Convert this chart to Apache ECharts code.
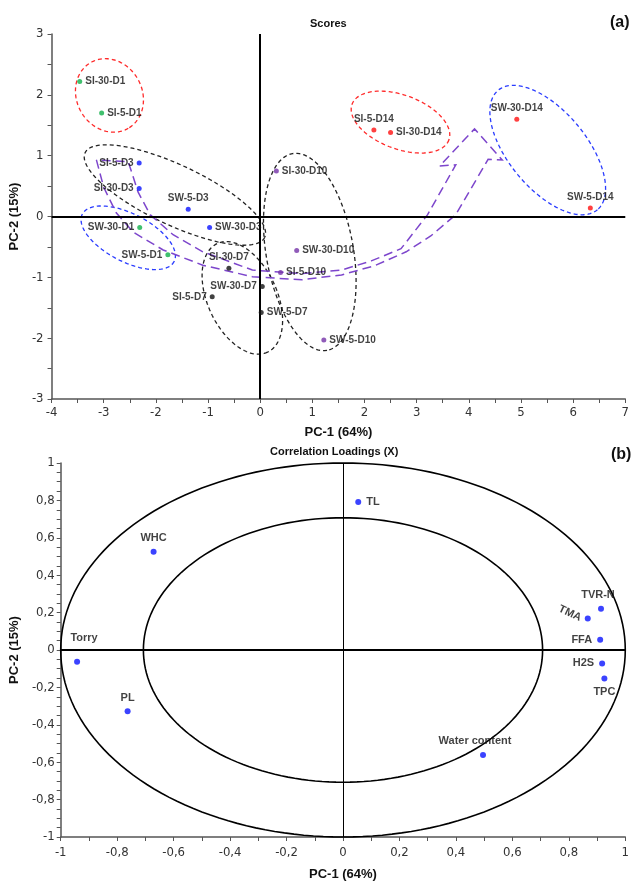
<!DOCTYPE html>
<html><head><meta charset="utf-8">
<script src="https://cdn.jsdelivr.net/npm/echarts@6/dist/echarts.min.js"></script>
<style>html,body{margin:0;padding:0;background:#fff}#c{width:632px;height:882px}</style>
</head><body><div id="c"></div>
<script>
// ---------- (a) Scores ----------
const scoreNames = ['SI-30-D1','SI-5-D1','SW-30-D1','SW-5-D1','SI-5-D3','SI-30-D3','SW-5-D3','SW-30-D3','SI-30-D7','SW-30-D7','SI-5-D7','SW-5-D7','SI-30-D10','SW-30-D10','SI-5-D10','SW-5-D10','SI-5-D14','SI-30-D14','SW-30-D14','SW-5-D14'];
const scoreX = [-3.46,-3.04,-2.31,-1.77,-2.32,-2.32,-1.38,-0.97,-0.60,0.04,-0.92,0.02,0.31,0.70,0.39,1.22,2.18,2.50,4.92,6.33];
const scoreY = [2.22,1.70,-0.18,-0.63,0.88,0.46,0.12,-0.18,-0.85,-1.15,-1.32,-1.58,0.75,-0.56,-0.92,-2.03,1.42,1.38,1.60,0.14];
const scoreGroup = ['D1','D1','D1','D1','D3','D3','D3','D3','D7','D7','D7','D7','D10','D10','D10','D10','D14','D14','D14','D14'];
const groups = ['D1','D3','D7','D10','D14'];
// group ellipses: [centerX, centerY, axisA_x, axisA_y, axisB_x, axisB_y] in PC units
const groupEllipses = [
  [-2.89, 1.99, 0.361,-0.540,-0.543,-0.271],
  [-2.53,-0.35, 0.881,-0.388,-0.207,-0.351],
  [-1.635,0.353,1.722,-0.695,-0.241,-0.446],
  [-0.342,-1.338,0.482,-0.893,-0.603,-0.243],
  [0.951,-0.583,0.331,-1.617,-0.824,-0.126],
  [2.69, 1.552,0.929,-0.292,-0.175,-0.417],
  [5.513,1.092,0.953,-0.981,-0.568,-0.412]
];
// trend arrow outline in PC units
const arrowX = [-3.14,-3.00,-2.76,-2.43,-1.86,-1.10,-0.15,0.80,1.56,2.19,2.80,3.27,3.75,4.37,4.64,4.11,3.44,3.75,3.21,2.70,2.13,1.56,0.80,-0.15,-1.10,-1.67,-2.11,-2.34,-2.53,-3.14];
const arrowY = [0.93,0.48,0.06,-0.26,-0.55,-0.80,-0.99,-1.04,-0.96,-0.81,-0.58,-0.32,0.03,0.94,0.93,1.44,0.83,0.85,0.03,-0.53,-0.73,-0.88,-0.94,-0.88,-0.58,-0.30,0.03,0.40,0.90,0.93];

// ---------- (b) Correlation loadings ----------
const loadNames = ['TL','WHC','Torry','PL','TVR-N','TMA','FFA','H2S','TPC','Water content'];
const loadX = [0.054,-0.671,-0.942,-0.763,0.914,0.867,0.911,0.918,0.926,0.496];
const loadY = [0.791,0.526,-0.063,-0.328,0.221,0.169,0.055,-0.072,-0.152,-0.561];
const circleRadii = [1, 0.7071];

// ---------- styles ----------
const groupColor = {D1:'#10b04a', D3:'#0a14ff', D7:'#111111', D10:'#7432a8', D14:'#ff1010'};
const ellipseStyle = ['#ff2a2a','#2a3cff','#222','#222','#222','#ff2a2a','#2a3cff'];
const scoreLabelPos = {'SI-5-D3':'left','SI-30-D3':'left','SW-5-D3':'top','SW-30-D1':'left','SW-5-D1':'left',
  'SI-30-D7':'top','SW-30-D7':'left','SI-5-D7':'left','SI-5-D14':'top','SW-30-D14':'top','SW-5-D14':'top'};
const loadLabel = {
  'TL':{position:'right'}, 'WHC':{position:'top'}, 'Torry':{position:'top', offset:[7,-10]},
  'PL':{position:'top'}, 'TVR-N':{position:'top', offset:[-3,0]}, 'TMA':{position:'left', rotate:-25, distance:4},
  'FFA':{position:'left'}, 'H2S':{position:'left'}, 'TPC':{position:'bottom'}, 'Water content':{position:'top', offset:[-8,0]}
};
const NARROW = "'Liberation Sans Narrow','Arial Narrow','DejaVu Sans Condensed',sans-serif";
const SANS = "'Liberation Sans',Arial,sans-serif";
const comma = v => String(+(+v).toFixed(1)).replace('.', ',');

function axisCommon(){
  return {
    axisLine:{onZero:false, lineStyle:{color:'#555', width:1.5}},
    axisTick:{show:true, length:4, lineStyle:{color:'#555'}},
    minorTick:{show:true, length:4, lineStyle:{color:'#555'}},
    splitLine:{show:false},
    axisLabel:{fontFamily:NARROW, fontSize:13, color:'#333'},
    nameLocation:'middle',
    nameTextStyle:{fontFamily:SANS, fontWeight:'bold', fontSize:13, color:'#111'}
  };
}

const scoreSeries = groups.map(g => ({
  type:'scatter', xAxisIndex:0, yAxisIndex:0, symbolSize:5, z:5,
  itemStyle:{color:groupColor[g]},
  label:{show:true, fontFamily:SANS, fontWeight:'bold', fontSize:10, color:'#111', distance:3,
    formatter:p=>p.name},
  data: scoreNames.map((n,i)=>({n,i})).filter(o=>scoreGroup[o.i]===g).map(o=>({
    name:o.n, value:[scoreX[o.i], scoreY[o.i]],
    label:{position: scoreLabelPos[o.n] || 'right'}
  }))
}));

const option = {
  animation:false,
  backgroundColor:'#fff',
  title:[
    {text:'Scores', left:305, top:13, textStyle:{fontFamily:SANS, fontWeight:'bold', fontSize:11, color:'#111'}},
    {text:'(a)', left:605, top:10, textStyle:{fontFamily:SANS, fontWeight:'bold', fontSize:16, color:'#111'}},
    {text:'Correlation Loadings (X)', left:265, top:441, textStyle:{fontFamily:SANS, fontWeight:'bold', fontSize:11, color:'#111'}},
    {text:'(b)', left:606, top:442, textStyle:{fontFamily:SANS, fontWeight:'bold', fontSize:16, color:'#111'}}
  ],
  grid:[
    {left:48, right:5, top:34, height:365},
    {left:59, right:5, top:463, height:374}
  ],
  xAxis:[
    Object.assign(axisCommon(), {gridIndex:0, type:'value', min:-4, max:7, interval:1, name:'PC-1 (64%)', nameGap:27,
      minorTick:{show:true, splitNumber:2, length:4, lineStyle:{color:'#555'}}}),
    Object.assign(axisCommon(), {gridIndex:1, type:'value', min:-1, max:1, interval:0.2, name:'PC-1 (64%)', nameGap:31,
      minorTick:{show:true, splitNumber:2, length:4, lineStyle:{color:'#555'}}})
  ],
  yAxis:[
    Object.assign(axisCommon(), {gridIndex:0, type:'value', min:-3, max:3, interval:1, name:'PC-2 (15%)', nameGap:21,
      minorTick:{show:true, splitNumber:2, length:4, lineStyle:{color:'#555'}}}),
    Object.assign(axisCommon(), {gridIndex:1, type:'value', min:-1, max:1, interval:0.2, name:'PC-2 (15%)', nameGap:27,
      minorTick:{show:true, splitNumber:4, length:4, lineStyle:{color:'#555'}}})
  ],
  series:[
    // zero lines (a)
    {type:'scatter', xAxisIndex:0, yAxisIndex:0, data:[], z:1,
      markLine:{silent:true, symbol:'none', label:{show:false}, lineStyle:{color:'#000', width:2, type:'solid'},
        data:[{xAxis:0},{yAxis:0}]}},
    // group ellipses
    {type:'custom', xAxisIndex:0, yAxisIndex:0, z:2, silent:true,
      data: groupEllipses.map(e=>[e[0], e[1]]),
      renderItem:(params, api)=>{
        const e = groupEllipses[params.dataIndex];
        const pts = [];
        for(let k=0;k<=120;k++){
          const t = k/120*2*Math.PI, c=Math.cos(t), s=Math.sin(t);
          pts.push(api.coord([e[0]+e[2]*c+e[4]*s, e[1]+e[3]*c+e[5]*s]));
        }
        return {type:'polyline', shape:{points:pts}, style:{stroke:ellipseStyle[params.dataIndex], lineWidth:1.3, lineDash:[4,3], fill:null}};
      }},
    // trend arrow
    {type:'custom', xAxisIndex:0, yAxisIndex:0, z:3, silent:true,
      data:[[arrowX[0], arrowY[0]]],
      renderItem:(params, api)=>{
        const pts = arrowX.map((x,i)=>api.coord([x, arrowY[i]]));
        return {type:'polyline', shape:{points:pts}, style:{stroke:'#7d46cc', lineWidth:1.5, lineDash:[9,5], fill:null}};
      }},
    ...scoreSeries,
    // zero lines (b)
    {type:'scatter', xAxisIndex:1, yAxisIndex:1, data:[], z:1,
      markLine:{silent:true, symbol:'none', label:{show:false},
        data:[{xAxis:0, lineStyle:{color:'#000', width:1, type:'solid'}},{yAxis:0, lineStyle:{color:'#000', width:2, type:'solid'}}]}},
    // correlation circles
    {type:'custom', xAxisIndex:1, yAxisIndex:1, z:2, silent:true,
      data: circleRadii.map(r=>[0, r]),
      renderItem:(params, api)=>{
        const r = circleRadii[params.dataIndex];
        const pts = [];
        for(let k=0;k<=180;k++){ const t=k/180*2*Math.PI; pts.push(api.coord([r*Math.cos(t), r*Math.sin(t)])); }
        return {type:'polyline', shape:{points:pts}, style:{stroke:'#000', lineWidth:1.6, fill:null}};
      }},
    {type:'scatter', xAxisIndex:1, yAxisIndex:1, symbolSize:6, z:5,
      itemStyle:{color:'#0a14ff'},
      label:{show:true, fontFamily:SANS, fontWeight:'bold', fontSize:11, color:'#111', distance:5, formatter:p=>p.name},
      data: loadNames.map((n,i)=>({name:n, value:[loadX[i], loadY[i]], label:loadLabel[n]}))
    }
  ]
};
// comma decimals for (b)
option.xAxis[1].axisLabel = Object.assign({}, option.xAxis[1].axisLabel, {formatter:comma, margin:9});
option.yAxis[1].axisLabel = Object.assign({}, option.yAxis[1].axisLabel, {formatter:comma, margin:6});
option.xAxis[0].axisLabel = Object.assign({}, option.xAxis[0].axisLabel, {margin:7});
option.yAxis[0].axisLabel = Object.assign({}, option.yAxis[0].axisLabel, {margin:8});

const chart = echarts.init(document.getElementById('c'), null, {renderer:'canvas'});
chart.setOption(option);
</script></body></html>
